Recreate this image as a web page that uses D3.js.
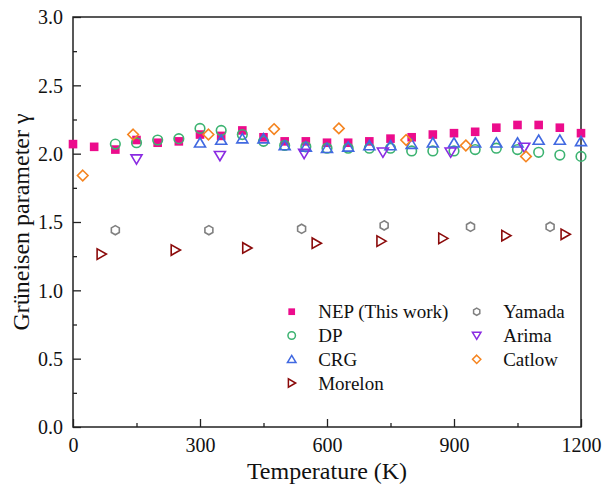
<!DOCTYPE html>
<html>
<head>
<meta charset="utf-8">
<script src="https://cdn.jsdelivr.net/npm/d3@7"></script>
<style>
  body { margin: 0; background: #fff; }
</style>
</head>
<body>
<svg width="604" height="497"></svg>
<script>
// temperatures (K) and Grüneisen parameter values
const nepT = [0, 50, 100, 150, 200, 250, 300, 350, 400, 450, 500, 550, 600, 650, 700, 750, 800, 850, 900, 950, 1000, 1050, 1100, 1150, 1200];
const nepG = [2.07, 2.05, 2.03, 2.10, 2.08, 2.09, 2.14, 2.13, 2.17, 2.12, 2.09, 2.09, 2.08, 2.08, 2.09, 2.11, 2.12, 2.14, 2.15, 2.16, 2.19, 2.21, 2.21, 2.19, 2.15];

const dpT = [100, 150, 200, 250, 300, 350, 400, 450, 500, 550, 600, 650, 700, 750, 800, 850, 900, 950, 1000, 1050, 1100, 1150, 1200];
const dpG = [2.07, 2.08, 2.10, 2.11, 2.185, 2.17, 2.14, 2.09, 2.06, 2.05, 2.04, 2.04, 2.04, 2.04, 2.02, 2.02, 2.02, 2.03, 2.04, 2.03, 2.01, 1.99, 1.98];

const crgT = [300, 350, 400, 450, 500, 550, 600, 650, 700, 750, 800, 850, 900, 950, 1000, 1050, 1100, 1150, 1200];
const crgG = [2.08, 2.10, 2.11, 2.11, 2.06, 2.05, 2.04, 2.05, 2.06, 2.06, 2.07, 2.08, 2.08, 2.08, 2.08, 2.08, 2.10, 2.10, 2.09];

const morelonT = [67, 242, 411, 575, 728, 874, 1023, 1163];
const morelonG = [1.265, 1.295, 1.31, 1.345, 1.36, 1.38, 1.40, 1.41];

const yamadaT = [100, 321, 540, 735, 939, 1127];
const yamadaG = [1.44, 1.44, 1.45, 1.475, 1.465, 1.465];

const arimaT = [150, 347, 546, 732, 892, 1066];
const arimaG = [1.96, 1.985, 2.00, 2.01, 2.01, 2.045];

const catlowT = [23, 142, 320, 475, 628, 787, 928, 1070];
const catlowG = [1.84, 2.14, 2.14, 2.18, 2.185, 2.10, 2.06, 1.98];

const xTicks = [0, 300, 600, 900, 1200];
const yTicks = [0, 0.5, 1.0, 1.5, 2.0, 2.5, 3.0];

const FONT = "Liberation Serif";
const svg = d3.select("svg").style("font-family", FONT);
const plotL = 73, plotR = 581, plotT = 17, plotB = 427;

const x = d3.scaleLinear().domain([0, 1200]).range([plotL, plotR]);
const y = d3.scaleLinear().domain([0, 3]).range([plotB, plotT]);

// marker shapes, r = half size
const shapes = {
  square: r => `M${-r},${-r}h${2 * r}v${2 * r}h${-2 * r}Z`,
  circle: r => `M${r},0A${r},${r} 0 1,1 ${-r},0A${r},${r} 0 1,1 ${r},0Z`,
  up: r => `M0,${-r}L${r * 1.1},${r * 0.85}L${-r * 1.1},${r * 0.85}Z`,
  down: r => `M0,${r}L${r * 1.1},${-r * 0.85}L${-r * 1.1},${-r * 0.85}Z`,
  rightTri: r => `M${r},0L${-r * 0.85},${r * 1.05}L${-r * 0.85},${-r * 1.05}Z`,
  hex: r => d3.range(6).map(i => {
      const a = Math.PI / 3 * i - Math.PI / 2;
      return (i ? "L" : "M") + (r * Math.cos(a)).toFixed(2) + "," + (r * Math.sin(a)).toFixed(2);
    }).join("") + "Z",
  diamond: r => `M0,${-r}L${r},0L0,${r}L${-r},0Z`
};

const series = [
  { name: "NEP (This work)", t: nepT, g: nepG, shape: "square", color: "#ec0c8c", fill: true, r: 4.3 },
  { name: "DP", t: dpT, g: dpG, shape: "circle", color: "#3cb371", fill: false, r: 4.8 },
  { name: "CRG", t: crgT, g: crgG, shape: "up", color: "#4169e1", fill: false, r: 5 },
  { name: "Morelon", t: morelonT, g: morelonG, shape: "rightTri", color: "#8b0a0a", fill: false, r: 5 },
  { name: "Yamada", t: yamadaT, g: yamadaG, shape: "hex", color: "#808080", fill: false, r: 4.6 },
  { name: "Arima", t: arimaT, g: arimaG, shape: "down", color: "#8a2be2", fill: false, r: 5 },
  { name: "Catlow", t: catlowT, g: catlowG, shape: "diamond", color: "#f5841f", fill: false, r: 5.3 }
];

// axes with inward ticks
const xAxis = svg.append("g").attr("transform", `translate(0,${plotB})`)
  .call(d3.axisBottom(x).tickValues(xTicks).tickSize(-8).tickPadding(11).tickFormat(d3.format("d")));
const xMinor = svg.append("g").attr("transform", `translate(0,${plotB})`)
  .call(d3.axisBottom(x).tickValues([150, 450, 750, 1050]).tickSize(-4).tickFormat(""));
const yAxis = svg.append("g").attr("transform", `translate(${plotL},0)`)
  .call(d3.axisLeft(y).tickValues(yTicks).tickSize(-8).tickPadding(10).tickFormat(d3.format(".1f")));
const yMinor = svg.append("g").attr("transform", `translate(${plotL},0)`)
  .call(d3.axisLeft(y).tickValues([0.25, 0.75, 1.25, 1.75, 2.25, 2.75]).tickSize(-4).tickFormat(""));

[xAxis, xMinor, yAxis, yMinor].forEach(a => {
  a.attr("font-family", null);
  a.select(".domain").remove();
  a.selectAll("line").attr("stroke", "#222").attr("stroke-width", 1.3);
  a.selectAll("text").style("font-family", FONT).attr("font-size", 20).attr("fill", "#111");
});
yAxis.selectAll("text").attr("dy", "0.34em");

// frame
svg.append("rect")
  .attr("x", plotL).attr("y", plotT)
  .attr("width", plotR - plotL).attr("height", plotB - plotT)
  .attr("fill", "none").attr("stroke", "#222").attr("stroke-width", 1.5);

// data markers
series.forEach(s => {
  svg.append("g").selectAll("path")
    .data(s.t.map((t, i) => [t, s.g[i]]))
    .enter().append("path")
      .attr("transform", d => `translate(${x(d[0])},${y(d[1])})`)
      .attr("d", shapes[s.shape](s.r))
      .attr("fill", s.fill ? s.color : "none")
      .attr("stroke", s.fill ? "none" : s.color)
      .attr("stroke-width", 1.6);
});

// legend
const legendPos = [
  [291.7, 311.7], [291.7, 335.5], [291.7, 359.3], [291.7, 383],
  [476.7, 311.7], [476.7, 335.5], [476.7, 359.3]
];
const legendOrder = [0, 1, 2, 3, 4, 5, 6];
const lg = svg.append("g").selectAll("g")
  .data(legendOrder)
  .enter().append("g")
    .attr("transform", (d, i) => `translate(${legendPos[i][0]},${legendPos[i][1]})`);

lg.append("path")
  .attr("d", d => shapes[series[d].shape](series[d].r * 0.78))
  .attr("fill", d => series[d].fill ? series[d].color : "none")
  .attr("stroke", d => series[d].fill ? "none" : series[d].color)
  .attr("stroke-width", 1.5);

lg.append("text")
  .attr("x", 26.5).attr("y", 6.5)
  .style("font-family", FONT)
  .attr("font-size", 19).attr("fill", "#111")
  .text(d => series[d].name);

// axis titles
svg.append("text")
  .attr("x", (plotL + plotR) / 2).attr("y", 479)
  .style("font-family", FONT)
  .attr("text-anchor", "middle").attr("font-size", 24).attr("fill", "#111")
  .text("Temperature (K)");

svg.append("text")
  .attr("transform", `translate(29,${(plotT + plotB) / 2}) rotate(-90)`)
  .style("font-family", FONT)
  .attr("text-anchor", "middle").attr("font-size", 24).attr("fill", "#111")
  .text("Grüneisen parameter γ");
</script>
</body>
</html>
